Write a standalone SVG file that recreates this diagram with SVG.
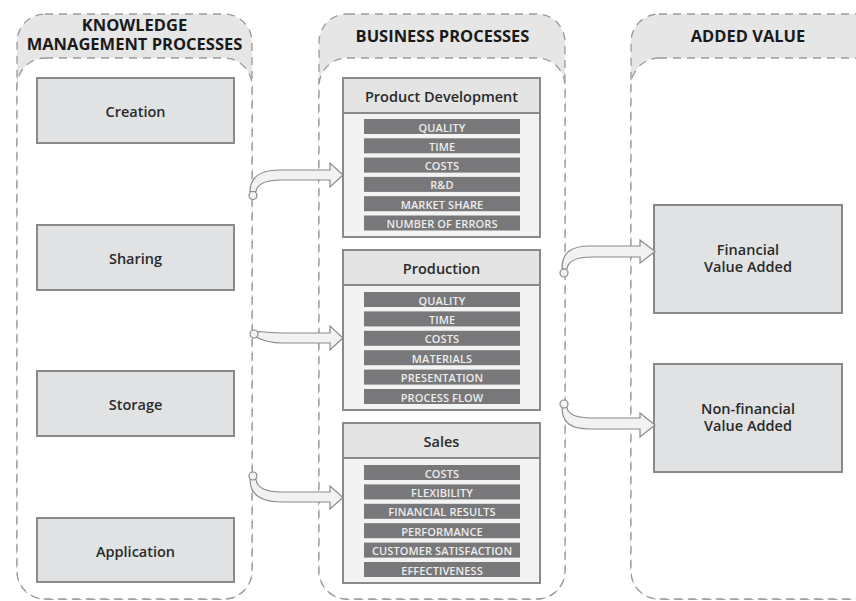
<svg xmlns="http://www.w3.org/2000/svg" width="856" height="601" viewBox="0 0 856 601">
<defs>
<style>
.colhead{fill:#e6e6e7;stroke:#9a9a9a;stroke-width:1.3;stroke-dasharray:8 6}
.colbody{fill:#ffffff;stroke:#9a9a9a;stroke-width:1.3;stroke-dasharray:8 6}
.ctitle{font-family:"Open Sans","Noto Sans",sans-serif;font-weight:700;font-size:16.5px;fill:#1a1a1a;text-anchor:middle}
.box{fill:#e1e2e4;stroke:#8a8a8a;stroke-width:2}
.lbl{font-family:"Open Sans","Noto Sans",sans-serif;font-weight:600;font-size:14.5px;fill:#2a2a2a;text-anchor:middle}
.phead{fill:#e4e4e5;stroke:#8a8a8a;stroke-width:2}
.pbody{fill:#f3f3f3;stroke:#8a8a8a;stroke-width:2}
.bar{fill:#78787a}
.item{font-family:"Open Sans","Noto Sans",sans-serif;font-weight:600;font-size:11px;letter-spacing:0.1px;fill:#ededed;text-anchor:middle}
.arr{fill:#f2f2f2;stroke:#8a8a8a;stroke-width:1.2;stroke-linejoin:miter}
</style>
</defs>

<g id="col-km">
<rect class="colhead" x="17" y="14" width="235" height="585" rx="28"/>
<rect class="colbody" x="17" y="58" width="235" height="541" rx="28"/>
<text class="ctitle" x="134.5" y="31">KNOWLEDGE</text>
<text class="ctitle" x="134.5" y="49.5">MANAGEMENT PROCESSES</text>
</g>
<g id="col-bp">
<rect class="colhead" x="319" y="14" width="246" height="585" rx="28"/>
<rect class="colbody" x="319" y="58" width="246" height="541" rx="28"/>
<text class="ctitle" x="442.5" y="42.3">BUSINESS PROCESSES</text>
</g>
<g id="col-av">
<rect class="colhead" x="631" y="14" width="250" height="585" rx="28"/>
<rect class="colbody" x="631" y="58" width="250" height="541" rx="28"/>
<text class="ctitle" x="748" y="42.3">ADDED VALUE</text>
</g>

<g id="creation"><rect class="box" x="37" y="78" width="197" height="65"/><text class="lbl" x="135.5" y="117">Creation</text></g>
<g id="sharing"><rect class="box" x="37" y="225" width="197" height="65"/><text class="lbl" x="135.5" y="264">Sharing</text></g>
<g id="storage"><rect class="box" x="37" y="371" width="197" height="65"/><text class="lbl" x="135.5" y="410">Storage</text></g>
<g id="application"><rect class="box" x="37" y="518" width="197" height="64"/><text class="lbl" x="135.5" y="556.5">Application</text></g>

<g id="product-development">
<rect class="pbody" x="343" y="78" width="197" height="159"/>
<rect class="phead" x="343" y="78" width="197" height="35"/>
<text class="lbl" x="441.5" y="101.7">Product Development</text>
<rect class="bar" x="364" y="119" width="156" height="15"/><text class="item" x="442" y="131.5">QUALITY</text>
<rect class="bar" x="364" y="138.3" width="156" height="15"/><text class="item" x="442" y="150.8">TIME</text>
<rect class="bar" x="364" y="157.6" width="156" height="15"/><text class="item" x="442" y="170.1">COSTS</text>
<rect class="bar" x="364" y="176.9" width="156" height="15"/><text class="item" x="442" y="189.4">R&amp;D</text>
<rect class="bar" x="364" y="196.2" width="156" height="15"/><text class="item" x="442" y="208.7">MARKET SHARE</text>
<rect class="bar" x="364" y="215.5" width="156" height="15"/><text class="item" x="442" y="228">NUMBER OF ERRORS</text>
</g>

<g id="production">
<rect class="pbody" x="343" y="250" width="197" height="160"/>
<rect class="phead" x="343" y="250" width="197" height="35"/>
<text class="lbl" x="441.5" y="274">Production</text>
<rect class="bar" x="364" y="292" width="156" height="15"/><text class="item" x="442" y="304.5">QUALITY</text>
<rect class="bar" x="364" y="311.4" width="156" height="15"/><text class="item" x="442" y="323.9">TIME</text>
<rect class="bar" x="364" y="330.8" width="156" height="15"/><text class="item" x="442" y="343.3">COSTS</text>
<rect class="bar" x="364" y="350.2" width="156" height="15"/><text class="item" x="442" y="362.7">MATERIALS</text>
<rect class="bar" x="364" y="369.6" width="156" height="15"/><text class="item" x="442" y="382.1">PRESENTATION</text>
<rect class="bar" x="364" y="389" width="156" height="15"/><text class="item" x="442" y="401.5">PROCESS FLOW</text>
</g>

<g id="sales">
<rect class="pbody" x="343" y="423" width="197" height="160"/>
<rect class="phead" x="343" y="423" width="197" height="35"/>
<text class="lbl" x="441.5" y="446.5">Sales</text>
<rect class="bar" x="364" y="465" width="156" height="15"/><text class="item" x="442" y="477.5">COSTS</text>
<rect class="bar" x="364" y="484.4" width="156" height="15"/><text class="item" x="442" y="496.9">FLEXIBILITY</text>
<rect class="bar" x="364" y="503.8" width="156" height="15"/><text class="item" x="442" y="516.3">FINANCIAL RESULTS</text>
<rect class="bar" x="364" y="523.2" width="156" height="15"/><text class="item" x="442" y="535.7">PERFORMANCE</text>
<rect class="bar" x="364" y="542.6" width="156" height="15"/><text class="item" x="442" y="555.1">CUSTOMER SATISFACTION</text>
<rect class="bar" x="364" y="562" width="156" height="15"/><text class="item" x="442" y="574.5">EFFECTIVENESS</text>
</g>

<g id="financial"><rect class="box" x="654" y="205" width="188" height="108"/><text class="lbl" x="748" y="255">Financial</text><text class="lbl" x="748" y="272">Value Added</text></g>
<g id="non-financial"><rect class="box" x="654" y="364" width="188" height="108"/><text class="lbl" x="748" y="414">Non-financial</text><text class="lbl" x="748" y="431">Value Added</text></g>

<g id="connectors">
<path class="arr" d="M250,191.5 C250,178 259,170 280,170 L330,170 L330,163 L343,175 L330,187 L330,180 L282,180 C266,180 257,184 256,191.5 Z"/>
<circle class="arr" cx="253" cy="195.5" r="4"/>
<path class="arr" d="M257,331.5 C267,332 272,333 282,333 L330,333 L330,326 L343,338 L330,350 L330,343 L282,343 C270,343 262,340 256,337 Z"/>
<circle class="arr" cx="254" cy="334" r="4"/>
<path class="arr" d="M256,479.5 C257,488 265,492 282,492 L330,492 L330,486 L343,497.5 L330,509 L330,502 L282,502 C260,502 250,494 250,479.5 Z"/>
<circle class="arr" cx="253" cy="476" r="4"/>
<path class="arr" d="M562,269 C562,253 570,246 590,246 L640,246 L640,240 L655,251.5 L640,263 L640,257 L592,257 C576,257 568,261 567,269 Z"/>
<circle class="arr" cx="564" cy="273" r="4"/>
<path class="arr" d="M567,407.5 C568,415 576,418 592,418 L640,418 L640,413 L655,425 L640,437 L640,429 L590,429 C570,429 562,422 562,407.5 Z"/>
<circle class="arr" cx="564" cy="404" r="4"/>
</g>
</svg>
